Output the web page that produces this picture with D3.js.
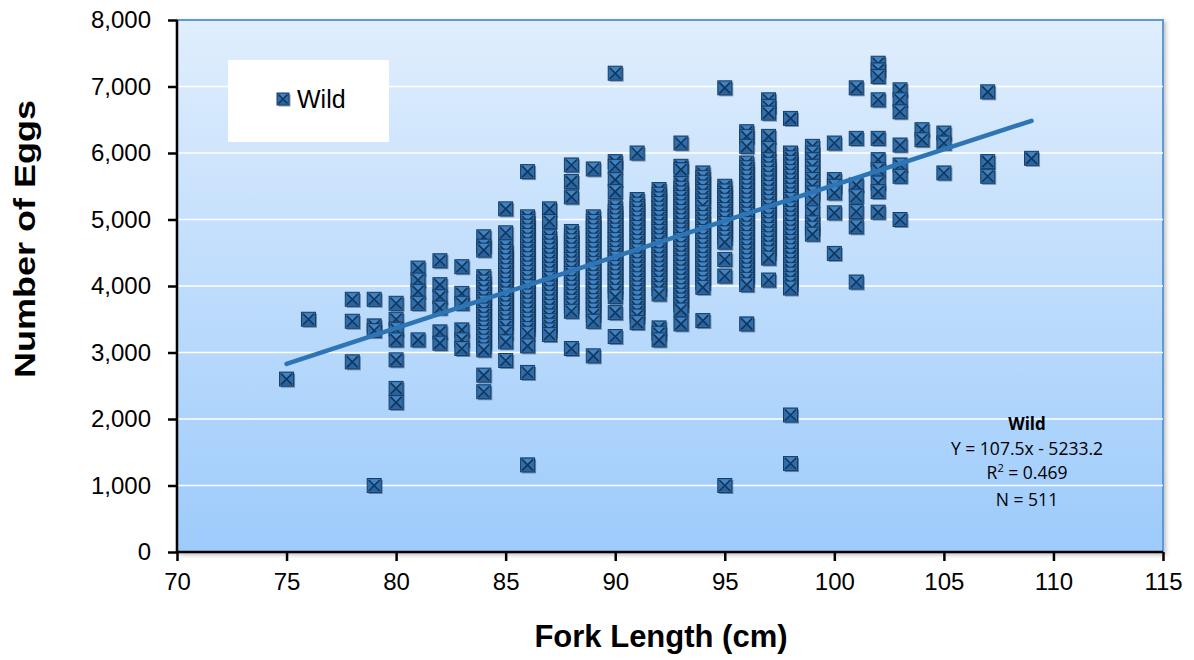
<!DOCTYPE html>
<html>
<head>
<meta charset="utf-8">
<script src="https://cdn.jsdelivr.net/npm/d3@7"></script>
<style>
  html, body { margin: 0; padding: 0; background: #ffffff; }
  svg { display: block; }
</style>
</head>
<body>
<svg id="chart" width="1194" height="660"></svg>
<script>
// ---------------- DATA ----------------
const forkLengths = [75, 76, 78, 79, 80, 81, 82, 83, 84, 85, 86, 87, 88, 89, 90, 91, 92, 93, 94, 95, 96, 97, 98, 99, 100, 101, 102, 103, 104, 105, 107, 109];
const eggCounts = [
  [2600],
  [3500],
  [3800, 3470, 2860],
  [3800, 3400, 3330, 1000],
  [3740, 3500, 3350, 3190, 2890, 2460, 2250],
  [4270, 4090, 3920, 3740, 3190],
  [4380, 4020, 3840, 3670, 3310, 3140],
  [4290, 3890, 3740, 3340, 3190, 3060],
  [4740, 4600, 4540, 4140, 4060, 3980, 3900, 3830, 3760, 3700, 3640, 3570, 3500, 3430, 3370, 3300, 3240, 3170, 3100, 3040, 2660, 2410],
  [5160, 4800, 4590, 4520, 4450, 4380, 4300, 4230, 4160, 4090, 4020, 3950, 3880, 3810, 3740, 3670, 3600, 3530, 3460, 3390, 3300, 3160, 2880],
  [5720, 5040, 4970, 4900, 4830, 4760, 4690, 4620, 4550, 4480, 4410, 4340, 4270, 4200, 4130, 4060, 3990, 3920, 3850, 3780, 3710, 3640, 3570, 3500, 3430, 3360, 3290, 3100, 2700, 1310],
  [5160, 4970, 4740, 4670, 4600, 4530, 4460, 4390, 4320, 4250, 4180, 4110, 4040, 3970, 3900, 3830, 3760, 3690, 3620, 3550, 3480, 3410, 3340, 3270],
  [5820, 5570, 5340, 4820, 4750, 4680, 4610, 4540, 4470, 4400, 4330, 4260, 4190, 4120, 4050, 3980, 3910, 3840, 3770, 3700, 3620, 3060],
  [5760, 5040, 4970, 4900, 4830, 4760, 4690, 4620, 4550, 4480, 4410, 4340, 4270, 4200, 4130, 4060, 3990, 3920, 3850, 3780, 3710, 3640, 3570, 3470, 2950],
  [7200, 5870, 5800, 5600, 5420, 5190, 5120, 5050, 4980, 4910, 4840, 4770, 4700, 4630, 4560, 4490, 4420, 4350, 4280, 4210, 4140, 4070, 4000, 3920, 3840, 3600, 3240],
  [6000, 5300, 5230, 5160, 5090, 5020, 4950, 4880, 4810, 4740, 4670, 4600, 4530, 4460, 4390, 4320, 4250, 4180, 4110, 4040, 3970, 3900, 3830, 3760, 3690, 3620, 3550, 3450],
  [5450, 5380, 5310, 5240, 5170, 5100, 5030, 4960, 4890, 4820, 4750, 4680, 4610, 4540, 4470, 4400, 4330, 4260, 4190, 4120, 4040, 3960, 3880, 3370, 3290, 3190],
  [6150, 5800, 5750, 5540, 5470, 5400, 5330, 5260, 5190, 5120, 5050, 4980, 4910, 4840, 4770, 4700, 4630, 4560, 4490, 4420, 4350, 4280, 4210, 4140, 4070, 4000, 3930, 3860, 3790, 3720, 3640, 3430],
  [5700, 5630, 5560, 5490, 5420, 5350, 5280, 5210, 5100, 5030, 4960, 4890, 4820, 4750, 4680, 4610, 4540, 4470, 4400, 4330, 4260, 4190, 4120, 4050, 3980, 3480],
  [6980, 5500, 5430, 5360, 5290, 5220, 5150, 5080, 5010, 4940, 4870, 4800, 4730, 4660, 4400, 4150, 1000],
  [6320, 6250, 6100, 5850, 5780, 5710, 5640, 5570, 5500, 5430, 5360, 5290, 5220, 5150, 5080, 5010, 4940, 4870, 4800, 4730, 4660, 4590, 4520, 4450, 4380, 4310, 4240, 4170, 4100, 4020, 3430],
  [6800, 6700, 6600, 6250, 6070, 5900, 5830, 5760, 5690, 5620, 5550, 5480, 5410, 5340, 5270, 5200, 5130, 5060, 4990, 4920, 4850, 4780, 4710, 4640, 4570, 4500, 4420, 4090],
  [6520, 6000, 5930, 5860, 5790, 5720, 5650, 5580, 5510, 5440, 5370, 5300, 5230, 5160, 5090, 5020, 4950, 4880, 4810, 4740, 4670, 4600, 4530, 4460, 4390, 4320, 4250, 4180, 4110, 4040, 3970, 2060, 1330],
  [6100, 6000, 5900, 5800, 5700, 5600, 5500, 5400, 5300, 5100, 4950, 4870, 4780],
  [6150, 5600, 5500, 5400, 5100, 4490],
  [6980, 6220, 5520, 5350, 5120, 4890, 4060],
  [7350, 7250, 7150, 6800, 6220, 5900, 5750, 5550, 5420, 5110],
  [6950, 6800, 6620, 6120, 5820, 5650, 5000],
  [6350, 6200],
  [6300, 6150, 5700],
  [6920, 5870, 5650],
  [5920]
];
const xTicks = [70, 75, 80, 85, 90, 95, 100, 105, 110, 115];
const yTicks = [0, 1000, 2000, 3000, 4000, 5000, 6000, 7000, 8000];
const trendCoef = [107.5, -5233.2];   // slope, intercept
const trendRange = [75, 109];
const seriesName = "Wild";
const statsLines = ["Y = 107.5x - 5233.2", "R2 = 0.469", "N = 511"];

// ---------------- LAYOUT ----------------
const svg = d3.select("#chart");
const pL = 177, pR = 1163, pT = 20, pB = 552;
const x = d3.scaleLinear().domain([70, 115]).range([pL, pR]);
const y = d3.scaleLinear().domain([0, 8000]).range([pB, pT]);

const defs = svg.append("defs");
const bg = defs.append("linearGradient").attr("id", "bg").attr("x1", 0).attr("y1", 0).attr("x2", 0).attr("y2", 1);
bg.append("stop").attr("offset", "0%").attr("stop-color", "#e0eefd");
bg.append("stop").attr("offset", "100%").attr("stop-color", "#9dcbfb");

const shadow = defs.append("filter").attr("id", "shadow").attr("x", "-5%").attr("y", "-5%").attr("width", "110%").attr("height", "110%");
shadow.append("feDropShadow").attr("dx", 2).attr("dy", 2).attr("stdDeviation", 2).attr("flood-color", "#000").attr("flood-opacity", 0.25);

// plot background
svg.append("rect")
  .attr("x", pL).attr("y", pT)
  .attr("width", pR - pL).attr("height", pB - pT)
  .attr("fill", "url(#bg)")
  .attr("stroke", "#5b9bd5").attr("stroke-width", 2)
  .attr("filter", "url(#shadow)");

// gridlines
svg.append("g").selectAll("line")
  .data(yTicks.filter(d => d > 0 && d < 8000))
  .join("line")
  .attr("x1", pL).attr("x2", pR)
  .attr("y1", d => y(d)).attr("y2", d => y(d))
  .attr("stroke", "#ffffff").attr("stroke-width", 1.5);

// axes
const fontTick = "'Liberation Sans', Arial, sans-serif";
const yAxis = svg.append("g").attr("transform", `translate(${pL},0)`)
  .call(d3.axisLeft(y).tickValues(yTicks).tickFormat(d3.format(",")).tickSize(9).tickPadding(17));
const xAxis = svg.append("g").attr("transform", `translate(0,${pB})`)
  .call(d3.axisBottom(x).tickValues(xTicks).tickSize(9).tickPadding(12));
[yAxis, xAxis].forEach(g => {
  g.select(".domain").attr("stroke", "#000").attr("stroke-width", 2.5);
  g.selectAll(".tick line").attr("stroke", "#000").attr("stroke-width", 2.5);
  g.selectAll(".tick text").attr("fill", "#000").style("font-family", fontTick).style("font-size", "24px");
});
yAxis.select(".domain").attr("d", `M0,${pT}V${pB}`);
xAxis.select(".domain").attr("d", `M${pL},0H${pR}`);

// markers
const points = [];
forkLengths.forEach((fl, i) => eggCounts[i].forEach(v => points.push({ fl, v })));

function drawMarker(sel, s) {
  const h = s / 2;
  sel.append("rect").attr("x", -h + 1.5).attr("y", -h + 1.5).attr("width", s).attr("height", s)
    .attr("fill", "#0b2540").attr("opacity", 0.45);
  sel.append("rect").attr("x", -h).attr("y", -h).attr("width", s).attr("height", s)
    .attr("fill", "#2f6eab").attr("stroke", "#173d66").attr("stroke-width", 1);
  sel.append("path").attr("d", `M${-h + 1},${-h + 1}L0,0L${h - 1},${-h + 1}Z`).attr("fill", "#4284c3");
  sel.append("path").attr("d", `M${-h + 1},${h - 1}L0,0L${h - 1},${h - 1}Z`).attr("fill", "#2863a0");
  sel.append("path").attr("d", `M${-h + 1.5},${-h + 1.5}L${h - 1.5},${h - 1.5}M${h - 1.5},${-h + 1.5}L${-h + 1.5},${h - 1.5}`)
    .attr("stroke", "#133658").attr("stroke-width", 1.6).attr("fill", "none");
}

svg.append("g").selectAll("g")
  .data(points)
  .join("g")
  .attr("transform", d => `translate(${x(d.fl)},${y(d.v)})`)
  .each(function () { drawMarker(d3.select(this), 14); });

// trendline
const line = d3.line().x(d => x(d)).y(d => y(trendCoef[0] * d + trendCoef[1]));
svg.append("path").datum(trendRange)
  .attr("d", line)
  .attr("stroke", "#2e75b6").attr("stroke-width", 4.5).attr("fill", "none").attr("stroke-linecap", "round");

// legend
svg.append("rect").attr("x", 228).attr("y", 60).attr("width", 161).attr("height", 82).attr("fill", "#ffffff");
const lg = svg.append("g").attr("transform", "translate(283,99)");
drawMarker(lg, 12);
svg.append("text").attr("x", 297).attr("y", 108)
  .style("font-family", fontTick).style("font-size", "25px").attr("fill", "#000").text(seriesName);

// stats annotation
const statFont = "'Open Sans', 'Noto Sans', sans-serif";
const sx = 1027;
svg.append("text").attr("x", sx).attr("y", 430).attr("text-anchor", "middle")
  .style("font-family", statFont).style("font-size", "17px").style("font-weight", "bold").attr("fill", "#000").text(seriesName);
svg.append("text").attr("x", sx).attr("y", 455).attr("text-anchor", "middle")
  .style("font-family", statFont).style("font-size", "17.5px").attr("fill", "#000").text(statsLines[0]);
const r2 = svg.append("text").attr("x", sx).attr("y", 479).attr("text-anchor", "middle")
  .style("font-family", statFont).style("font-size", "17.5px").attr("fill", "#000");
r2.append("tspan").text("R");
r2.append("tspan").attr("dy", -7).style("font-size", "11px").text("2");
r2.append("tspan").attr("dy", 7).text(" = 0.469");
svg.append("text").attr("x", sx).attr("y", 506).attr("text-anchor", "middle")
  .style("font-family", statFont).style("font-size", "17.5px").attr("fill", "#000").text(statsLines[2]);

// axis titles
svg.append("text").attr("x", 661).attr("y", 647).attr("text-anchor", "middle")
  .style("font-family", fontTick).style("font-size", "31px").style("font-weight", "bold").attr("fill", "#000")
  .text("Fork Length (cm)");
svg.append("text").attr("transform", "translate(35,239) rotate(-90)").attr("text-anchor", "middle")
  .attr("textLength", 278).attr("lengthAdjust", "spacingAndGlyphs")
  .style("font-family", fontTick).style("font-size", "30px").style("font-weight", "bold").attr("fill", "#000")
  .text("Number of Eggs");
</script>
</body>
</html>
